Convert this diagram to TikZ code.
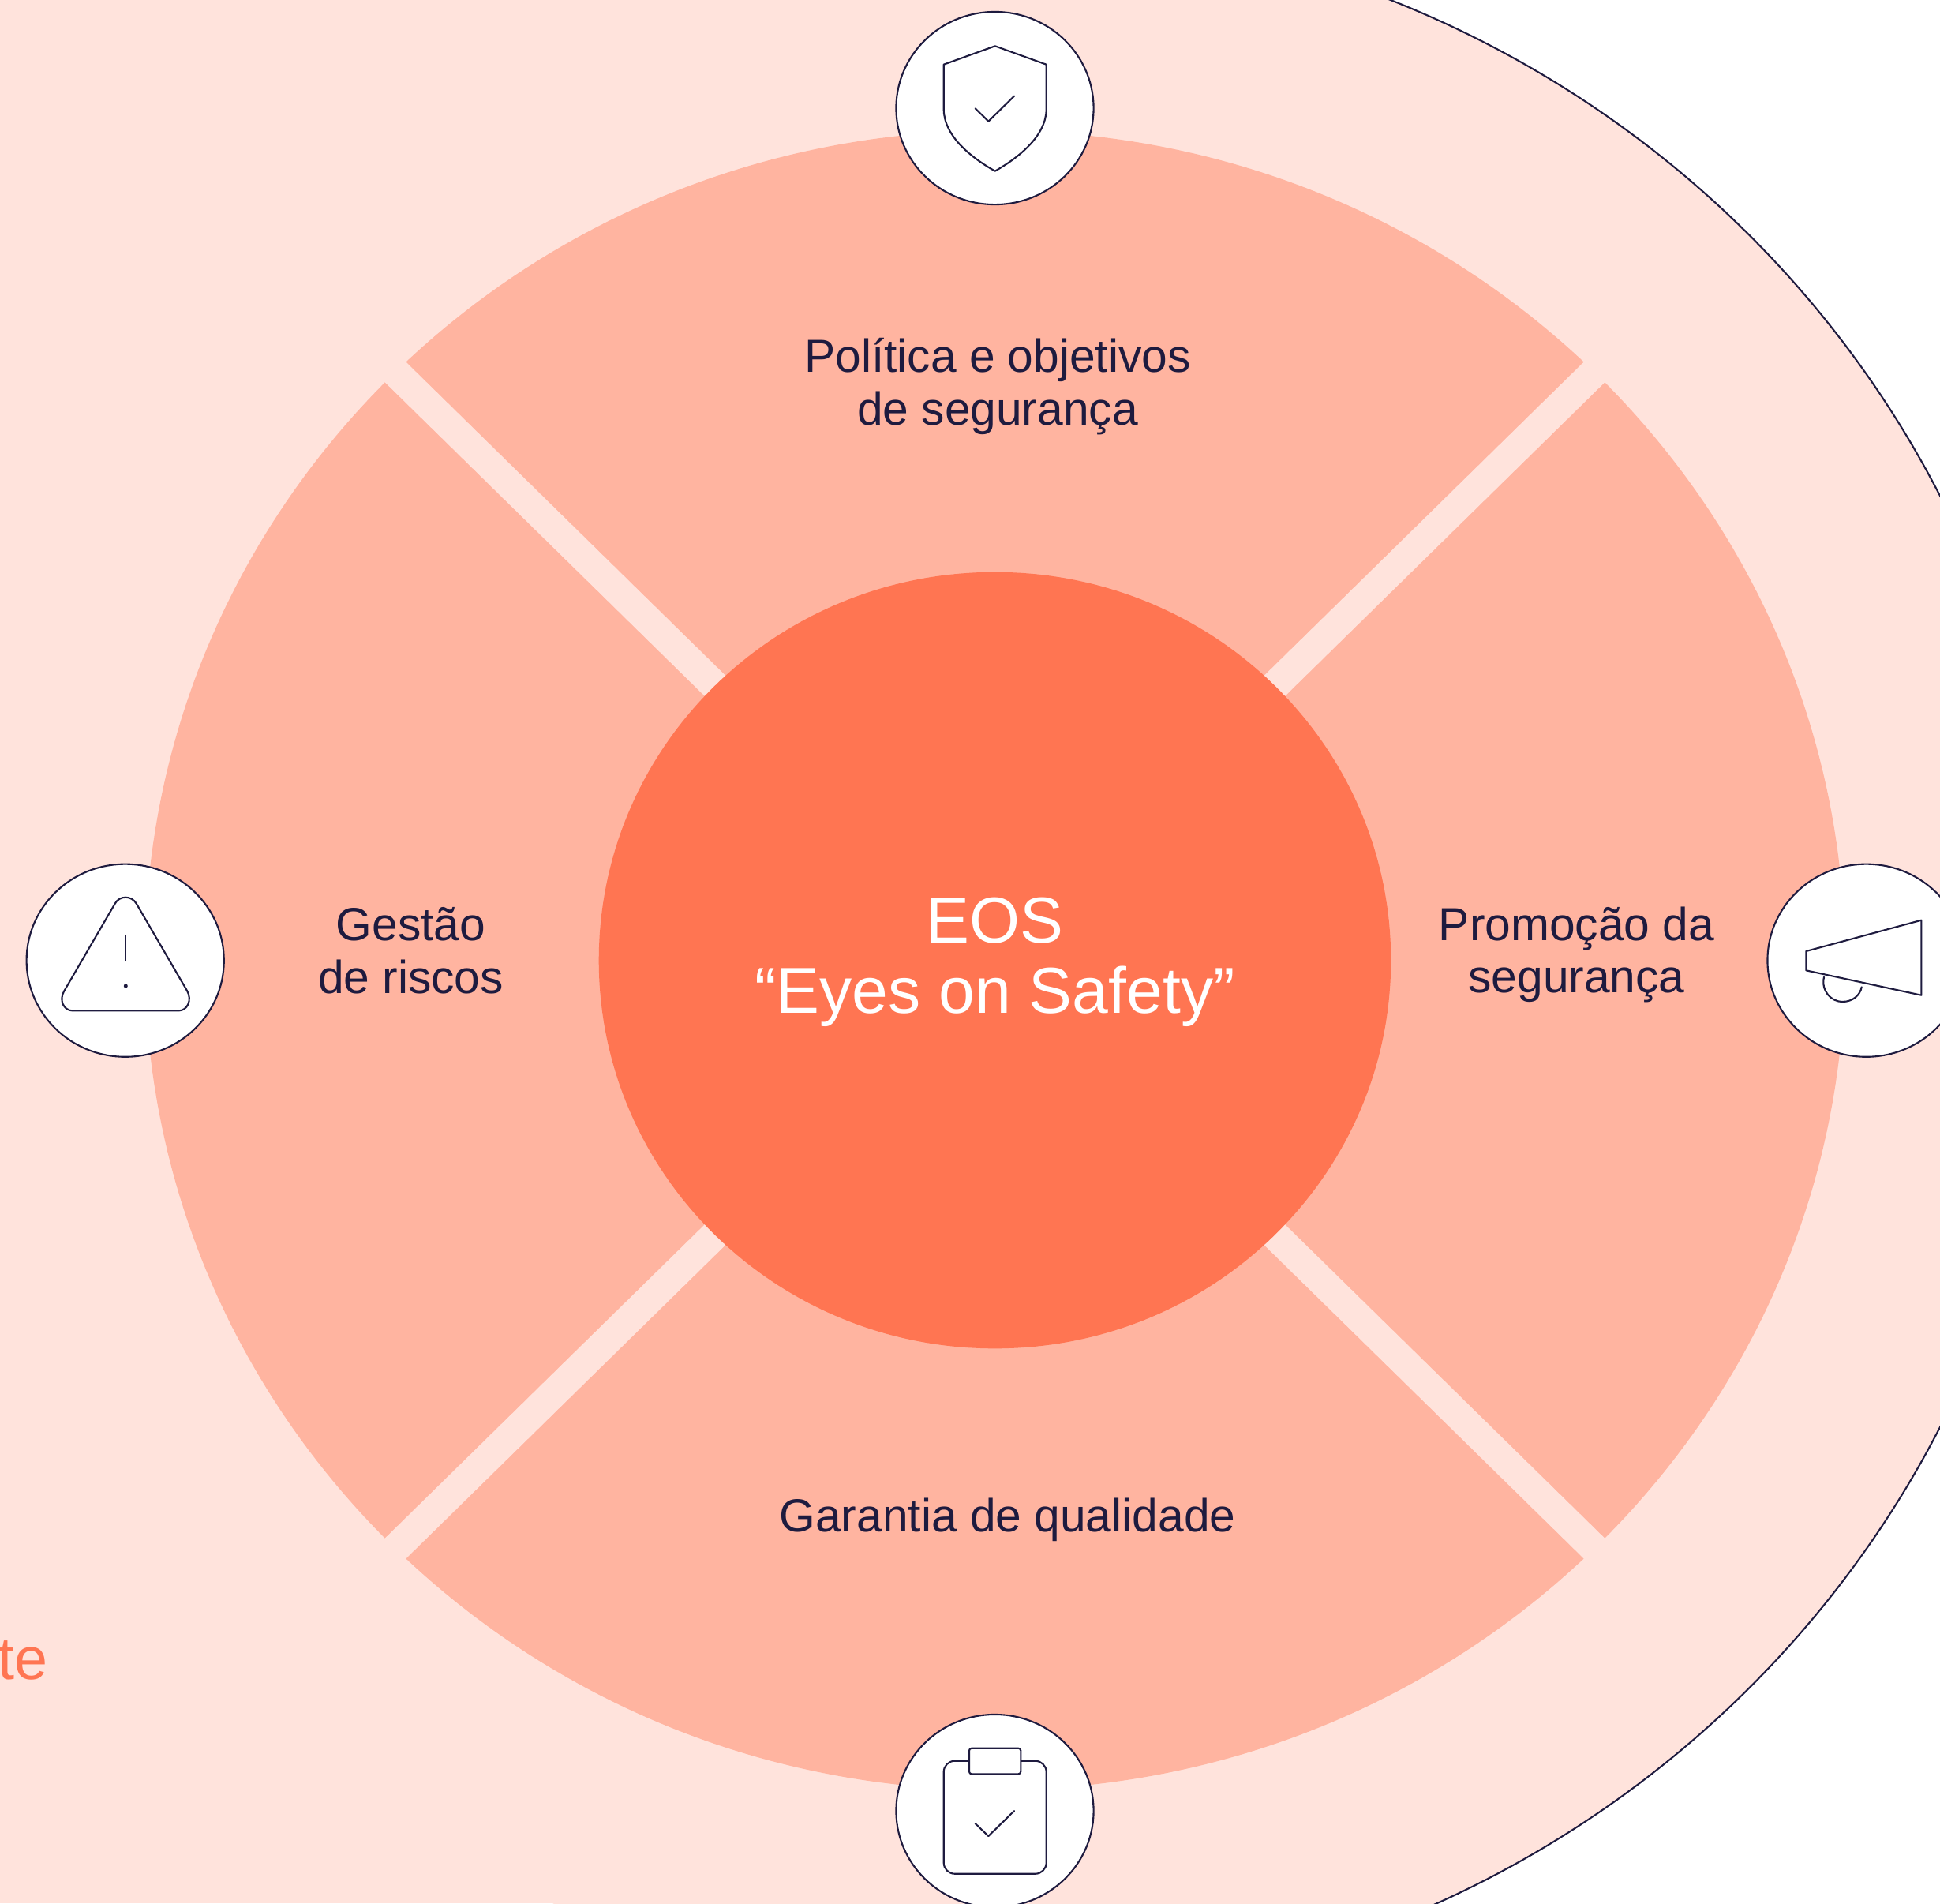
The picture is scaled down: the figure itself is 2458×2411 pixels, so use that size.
\documentclass[tikz,border=0pt]{standalone}
\usepackage{fontspec}
\setmainfont{Liberation Sans}
\usetikzlibrary{shapes.geometric}
\definecolor{palepink}{HTML}{FFE3DC}
\definecolor{midpink}{HTML}{FFB4A0}
\definecolor{hubcolor}{HTML}{FF7552}
\definecolor{inkcolor}{HTML}{1E1B3F}
\tikzset{
  iconring/.style={ellipse, draw=inkcolor, fill=white, line width=0.6pt, inner sep=0pt, minimum width=2.5cm, minimum height=2.44cm},
  iconline/.style={draw=inkcolor, line width=0.6pt, line join=round, line cap=round},
  seglabel/.style={text=inkcolor, align=center, inner sep=0pt, font=\fontsize{16.7}{18.95}\selectfont},
  gapline/.style={draw=palepink, line width=0.37cm},
}
\begin{document}
\begin{tikzpicture}[x=0.01cm, y=-0.01cm]
  \useasboundingbox (0,0) rectangle (2458,2411);
  \clip (0,0) rectangle (2458,2411);
  \coordinate (mid) at (1260.5,1216.5);
  \coordinate (outermid) at (1260.5,1218);
  \fill[palepink] (outermid) ellipse [x radius=1340, y radius=1313];
  \fill[palepink] (0,0) rectangle (1260.5,2411);
  \begin{scope}
    \clip (1260.5,0) rectangle (2458,2411);
    \draw[inkcolor, line width=0.6pt] (outermid) ellipse [x radius=1340, y radius=1313];
  \end{scope}
  \fill[midpink] (mid) ellipse [x radius=1077, y radius=1051];
  \coordinate (gapa) at (470.5,441.5);
  \coordinate (gapb) at (2050.5,1991.5);
  \coordinate (gapc) at (2050.5,441.5);
  \coordinate (gapd) at (470.5,1991.5);
  \draw[gapline] (gapa) -- (gapb);
  \draw[gapline] (gapc) -- (gapd);
  \node[ellipse, fill=hubcolor, inner sep=0pt, minimum width=10.03cm, minimum height=9.83cm] (hub) at (mid) {};
  \node[text=white, align=center, inner sep=0pt, font=\fontsize{23.4}{25.4}\selectfont] (hubtext) at (1260.5,1219) {EOS\\“Eyes on Safety”};
  \node[seglabel] (politica) at (1264,489.5) {Política e objetivos\\de segurança};
  \node[seglabel] (gestao) at (520.5,1204.5) {Gestão\\de riscos};
  \node[seglabel] (promocao) at (1997.5,1209.5) {Promoção da\\segurança};
  \node[seglabel] (garantia) at (1276.5,1925) {Garantia de qualidade};
  \node[text=hubcolor, anchor=base east, inner sep=0pt, font=\fontsize{21.5}{25}\selectfont] (cutoff) at (61.5,2127) {te};
  \node[iconring] (shield) at (1260.5,137) {};
  \node[iconring] (warning) at (158.7,1216.7) {};
  \node[iconring] (horn) at (2364.5,1216.7) {};
  \node[iconring] (board) at (1260.5,2294) {};
  \begin{scope}[iconline]
    \draw (1260.7,58.3) -- (1325.7,81.7) -- (1325.7,138)
      .. controls (1325.7,170) and (1295,197) .. (1260.7,216.7)
      .. controls (1226,197) and (1195.7,170) .. (1195.7,138)
      -- (1195.7,81.7) -- cycle;
    \draw (1235.7,137.3) -- (1252.3,153.7) -- (1285,121.7);
    \draw (145.5,1145) .. controls (151,1134) and (167,1134) .. (173,1145)
      -- (237,1255) .. controls (244,1267) and (237,1280.3) .. (226.7,1280.3)
      -- (91.7,1280.3) .. controls (81,1280.3) and (74,1267) .. (81.5,1255) -- cycle;
    \draw (159.3,1185) -- (159.3,1217);
    \fill[inkcolor] (159.3,1249) circle [radius=2.5];
    \draw (2288.3,1205) -- (2434.3,1165.7) -- (2434.3,1260.7) -- (2288.3,1229.3) -- cycle;
    \draw (2311,1237.7) .. controls (2307,1255) and (2320,1269) .. (2334.3,1269)
      .. controls (2348,1269) and (2357,1260) .. (2358.7,1250.3);
    \draw[rounded corners=0.14cm] (1195.7,2230.7) rectangle (1325.7,2373.7);
    \draw[fill=white, rounded corners=0.03cm] (1228,2214.7) rectangle (1293.3,2247.3);
    \draw (1235.7,2310) -- (1252.3,2326) -- (1285,2294);
  \end{scope}
\end{tikzpicture}
\end{document}
